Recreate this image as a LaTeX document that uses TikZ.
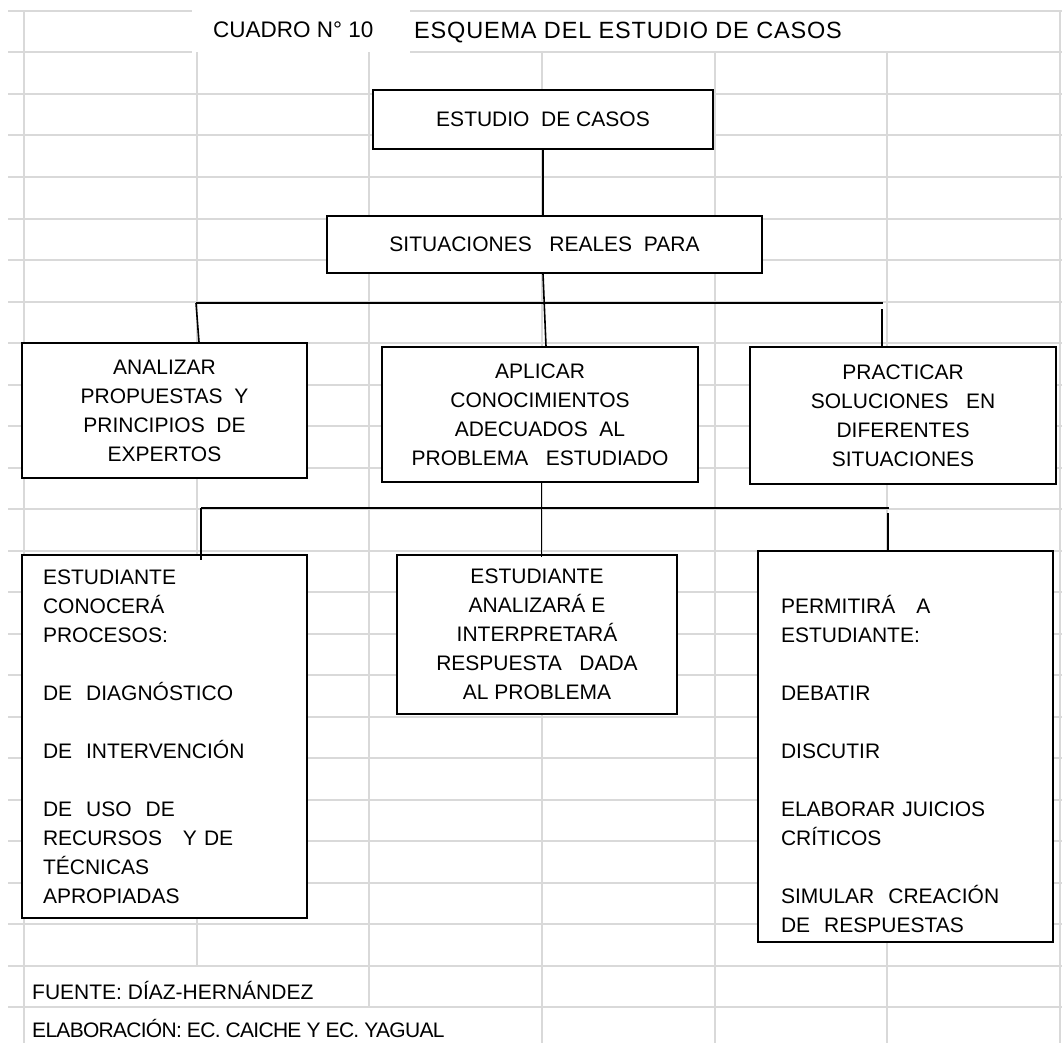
\documentclass[tikz,border=0pt]{standalone}
\usepackage{fontspec}
\setmainfont{Liberation Sans}
\usetikzlibrary{calc}
\definecolor{gridgray}{RGB}{217,217,217}
\tikzset{
  gridline/.style={gridgray, line width=2pt},
  box/.style={draw=black, line width=1.6pt, fill=white, inner sep=0pt,
    font=\fontsize{21}{29}\selectfont},
  conn/.style={black, line width=1.6pt},
  txt/.style={inner sep=0pt, font=\fontsize{21}{29}\selectfont},
}
\begin{document}
\begin{tikzpicture}[x=1pt,y=-1pt]
\useasboundingbox (0,0) rectangle (1062,1043);
% ---- spreadsheet grid ----
\foreach \k in {2,...,24} { \draw[gridline] (8,{11+41.5*\k}) -- (1062,{11+41.5*\k}); }
\foreach \yy in {11,52.5} {
  \draw[gridline] (8,\yy) -- (192,\yy);
  \draw[gridline] (410,\yy) -- (1062,\yy);
}
\draw[gridline] (24,11) -- (24,1043);
\draw[gridline] (1060,11) -- (1060,1043);
\draw[gridline] (196.7,52.5) -- (196.7,966);
\draw[gridline] (369.3,52.5) -- (369.3,1007);
\foreach \xx in {542,714.7,887.3} { \draw[gridline] (\xx,52.5) -- (\xx,1043); }

% ---- titles and footer ----
\node[txt, anchor=base west, font=\fontsize{22.5}{29}\selectfont] (t1) at (213,38) {CUADRO N° 10};
\node[txt, anchor=base west, font=\fontsize{23.5}{29}\selectfont] (t2) at (414,38.5)
  {\addfontfeature{LetterSpace=3.5}ESQUEMA DEL ESTUDIO DE CASOS};
\node[txt, anchor=base west] (f1) at (32,999.5) {FUENTE: DÍAZ-HERNÁNDEZ};
\node[txt, anchor=base west] (f2) at (32,1037.5) {\addfontfeature{LetterSpace=-3.4}ELABORACIÓN: EC. CAICHE Y EC. YAGUAL};

% ---- boxes ----
\node[box, align=center, minimum width=340, minimum height=59] (A) at (543,119.5)
  {ESTUDIO\ \ DE CASOS};
\node[box, align=center, minimum width=435, minimum height=57] (B) at (544.5,244.5)
  {SITUACIONES\ \ \ REALES\ \ PARA};
\node[box, align=center, minimum width=285, minimum height=135] (C1) at (164.5,410.5)
  {ANALIZAR\\ PROPUESTAS\ \ Y\\ PRINCIPIOS\ \ DE\\ EXPERTOS};
\node[box, align=center, minimum width=316, minimum height=135] (C2) at (540,414.5)
  {APLICAR\\ CONOCIMIENTOS\\ ADECUADOS\ \ AL\\ PROBLEMA\ \ \ ESTUDIADO};
\node[box, align=center, minimum width=306, minimum height=137] (C3) at (903,415.5)
  {PRACTICAR\\ SOLUCIONES\ \ \ EN\\ DIFERENTES\\ SITUACIONES};
\node[box, align=left, text width=243, minimum width=285, minimum height=363] (D1) at (164.5,736.5)
  {ESTUDIANTE\\ CONOCERÁ\\ PROCESOS:\\[29pt] DE\ \ DIAGNÓSTICO\\[29pt] DE\ \ INTERVENCIÓN\\[29pt]
   DE\ \ USO\ \ DE\\ RECURSOS\ \ \ Y DE\\ TÉCNICAS\\ APROPIADAS};
\node[box, align=center, minimum width=280, minimum height=159] (D2) at (537,634.5)
  {ESTUDIANTE\\ ANALIZARÁ E\\ INTERPRETARÁ\\ RESPUESTA\ \ \ DADA\\ AL PROBLEMA};
\node[box, align=left, text width=249, minimum width=295, minimum height=391] (D3) at (905.5,746.5)
  {\rule{0pt}{54pt}PERMITIRÁ\ \ \ A\\ ESTUDIANTE:\\[29pt] DEBATIR\\[29pt] DISCUTIR\\[29pt]
   ELABORAR JUICIOS\\ CRÍTICOS\\[29pt] SIMULAR\ \ CREACIÓN\\ DE\ \ RESPUESTAS};

% ---- connectors ----
\coordinate (bus1l) at (196,303);
\coordinate (bus1r) at (883,303);
\coordinate (bus1rt) at (882,309);
\coordinate (bus2l) at (201,508);
\coordinate (bus2r) at (889,508);
\coordinate (bus2rt) at (888,513);
\coordinate (ab) at (A.south |- B.north);
\coordinate (bb) at (A.south |- B.south);
\coordinate (c2b) at ([xshift=1.5pt]C2.south);
\coordinate (d2t) at (c2b |- D2.north);
\coordinate (d1t) at (bus2l |- D1.north);

\draw[conn] (A.south) -- (ab);
\draw[conn] (bb) -- ([xshift=6pt]C2.north);
\draw[conn] (bus1l) -- (bus1r);
\draw[conn] (bus1l) -- ([xshift=34.5pt]C1.north);
\draw[conn] (bus1rt) -- (bus1rt |- C3.north);
\draw[conn] (c2b) -- ([yshift=-3pt]d2t);
\draw[conn] (bus2l) -- (bus2r);
\draw[conn] (bus2l) -- ([yshift=-6pt]d1t);
\draw[conn] (bus2rt) -- (bus2rt |- D3.north);
\end{tikzpicture}
\end{document}
